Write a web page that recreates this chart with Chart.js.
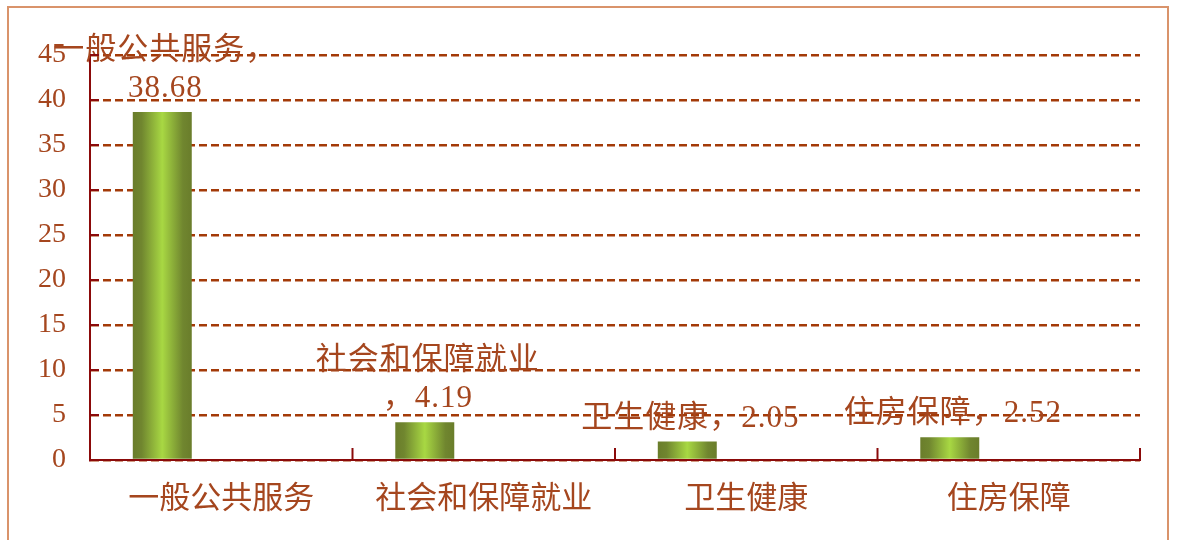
<!DOCTYPE html>
<html>
<head>
<meta charset="utf-8">
<script src="https://cdn.jsdelivr.net/npm/chart.js@4/dist/chart.umd.min.js"></script>
<style>
  html, body { margin: 0; padding: 0; background: #ffffff; overflow: hidden; }
  #wrap { position: relative; width: 1177px; height: 540px; }
  #frame { position: absolute; left: 7px; top: 6px; width: 1162px; height: 600px;
           border: 2px solid #D9936B; box-sizing: border-box; pointer-events: none; }
  canvas { position: absolute; left: 0; top: 0; }
</style>
</head>
<body>
<div id="wrap">
  <canvas id="c" width="1177" height="540"></canvas>
  <div id="frame"></div>
</div>
<script>
// ---- data ----
const categories = ['一般公共服务', '社会和保障就业', '卫生健康', '住房保障'];
const values = [38.68, 4.19, 2.05, 2.52];
const yTicks = [0, 5, 10, 15, 20, 25, 30, 35, 40, 45];
// how each data label wraps: 'afterComma', 'beforeComma', 'none'
const labelWrap = ['afterComma', 'beforeComma', 'none', 'none'];

const TEXT = '#A5461E';
const GRID = '#A33A08';
const AXIS = '#8B0A0A';
const FONT = '"Liberation Serif", "Noto Sans CJK SC", serif';

function labelLines(i) {
  const name = categories[i], v = values[i].toFixed(2);
  if (labelWrap[i] === 'afterComma') return [name + '，', v];
  if (labelWrap[i] === 'beforeComma') return [name, '，' + v];
  return [name + '，' + v];
}

const gradientBars = {
  id: 'gradientBars',
  beforeDatasetsDraw(chart) {
    const ctx = chart.ctx;
    chart.data.datasets.forEach((ds, di) => {
      const meta = chart.getDatasetMeta(di);
      meta.data.forEach(el => {
        if (el.x == null || isNaN(el.x)) return;
        const x0 = el.x - el.width / 2, x1 = el.x + el.width / 2;
        const g = ctx.createLinearGradient(x0, 0, x1, 0);
        g.addColorStop(0, '#6A7D2B');
        g.addColorStop(0.15, '#70862F');
        g.addColorStop(0.5, '#A8D843');
        g.addColorStop(0.85, '#70862F');
        g.addColorStop(1, '#6A7D2B');
        el.options = Object.assign({}, el.options, { backgroundColor: g });
      });
    });
  }
};

const axisMarks = {
  id: 'axisMarks',
  afterDraw(chart) {
    const ctx = chart.ctx;
    const xs = chart.scales.x, ys = chart.scales.y;
    ctx.save();
    ctx.strokeStyle = AXIS;
    ctx.lineWidth = 2;
    yTicks.forEach(t => {
      if (t === 0) return;
      const y = ys.getPixelForValue(t);
      ctx.beginPath(); ctx.moveTo(xs.left, y); ctx.lineTo(xs.left + 9, y); ctx.stroke();
    });
    const n = categories.length;
    for (let i = 1; i <= n; i++) {
      const x = xs.left + (xs.right - xs.left) * i / n;
      ctx.beginPath(); ctx.moveTo(x, ys.bottom); ctx.lineTo(x, ys.bottom - 12); ctx.stroke();
    }
    ctx.restore();
  }
};

const dataLabels = {
  id: 'dataLabels',
  afterDatasetsDraw(chart) {
    const ctx = chart.ctx;
    const meta = chart.getDatasetMeta(0);
    ctx.save();
    ctx.fillStyle = TEXT;
    ctx.font = '31px ' + FONT;
    if ('letterSpacing' in ctx) ctx.letterSpacing = '1px';
    ctx.textAlign = 'center';
    ctx.textBaseline = 'middle';
    meta.data.forEach((el, i) => {
      const lines = labelLines(i);
      lines.forEach((ln, k) => {
        const fromBottom = lines.length - 1 - k;
        ctx.fillText(ln, el.x + 3, el.y - 23 - 38 * fromBottom);
      });
    });
    ctx.restore();
  }
};

new Chart(document.getElementById('c'), {
  type: 'bar',
  data: {
    labels: categories,
    datasets: [
      { label: '支出', data: values, backgroundColor: '#8DB33A', borderWidth: 0 },
      { label: '系列2', data: [], backgroundColor: '#8DB33A' },
      { label: '系列3', data: [], backgroundColor: '#8DB33A' }
    ]
  },
  options: {
    responsive: false,
    animation: false,
    devicePixelRatio: 1,
    categoryPercentage: 0.674,
    barPercentage: 1,
    layout: { padding: { left: 0, top: 55, right: 37, bottom: 0 } },
    plugins: { legend: { display: false }, tooltip: { enabled: false } },
    scales: {
      x: {
        grid: { display: false },
        border: { display: true, color: AXIS, width: 2 },
        ticks: { color: TEXT, font: { family: FONT, size: 31 }, padding: 13, maxRotation: 0 },
        afterFit(s) { s.height = 80; }
      },
      y: {
        min: 0, max: 45,
        afterBuildTicks(s) { s.ticks = yTicks.map(v => ({ value: v })); },
        grid: { color: GRID, lineWidth: 2.5, drawTicks: false },
        border: { display: true, color: AXIS, width: 2, dash: [8, 4] },
        ticks: { color: TEXT, font: { family: FONT, size: 28 }, padding: 24 },
        afterFit(s) { s.width = 90; }
      }
    }
  },
  plugins: [gradientBars, axisMarks, dataLabels]
});
</script>
</body>
</html>
